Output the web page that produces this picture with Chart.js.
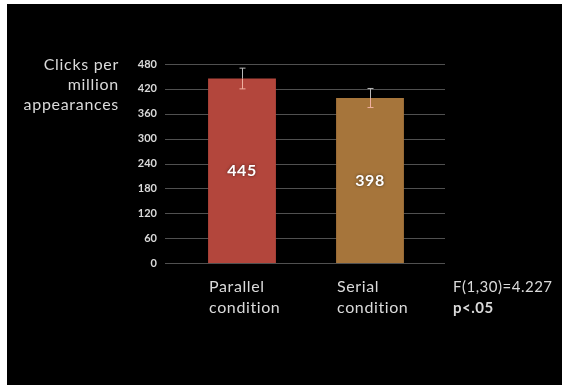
<!DOCTYPE html>
<html><head><meta charset="utf-8">
<script src="https://cdn.jsdelivr.net/npm/chart.js@4"></script>
<style>
html,body{margin:0;padding:0;background:#fff;width:562px;height:385px;overflow:hidden}
#wrap{position:absolute;left:7px;top:4px;width:555px;height:381px;background:#000}
canvas{display:block}
</style></head><body>
<div id="wrap"><canvas id="c" width="555" height="381"></canvas></div>
<script>
const categories = [["Parallel", "condition"], ["Serial", "condition"]];
const values = [445, 398];
const errors = [25, 23];
const yTicks = [0, 60, 120, 180, 240, 300, 360, 420, 480];
const yTitle = ["Clicks per", "million", "appearances"];
const statLines = ["F(1,30)=4.227", "p<.05"];
const barColors = ["#b3463c", "#a6753b"];

const FONT = "Lato, 'Open Sans', sans-serif";
const TXT = "#dadada";

const decor = {
  id: "decor",
  beforeDatasetsDraw(chart) {
    const {ctx, chartArea, scales: {y}} = chart;
    ctx.save();
    ctx.strokeStyle = "#505050";
    ctx.lineWidth = 1;
    yTicks.forEach(v => {
      const py = Math.round(y.getPixelForValue(v)) + 0.5;
      ctx.beginPath();
      ctx.moveTo(chartArea.left - 13, py);
      ctx.lineTo(chartArea.right + 11, py);
      ctx.stroke();
    });
    ctx.restore();
  },
  afterDatasetsDraw(chart) {
    const {ctx, scales: {y}} = chart;
    const meta = chart.getDatasetMeta(0);
    ctx.save();
    meta.data.forEach((el, i) => {
      const x = Math.round(el.x) + 0.5;
      const top = y.getPixelForValue(values[i] + errors[i]);
      const bot = y.getPixelForValue(values[i] - errors[i]);
      const mid = el.y;
      ctx.lineWidth = 1;
      ctx.strokeStyle = "#b8b8b8";
      ctx.beginPath();
      ctx.moveTo(x, top); ctx.lineTo(x, mid);
      ctx.moveTo(x - 3, top); ctx.lineTo(x + 3, top);
      ctx.stroke();
      ctx.strokeStyle = "#f0b0a0";
      ctx.beginPath();
      ctx.moveTo(x, mid); ctx.lineTo(x, bot);
      ctx.moveTo(x - 3, bot); ctx.lineTo(x + 3, bot);
      ctx.stroke();

      // value label
      ctx.letterSpacing = "0.5px";
      ctx.font = "bold 16px " + FONT;
      ctx.textAlign = "center";
      ctx.textBaseline = "middle";
      ctx.shadowColor = "rgba(0,0,0,0.6)";
      ctx.shadowBlur = 3;
      ctx.fillStyle = "#ffffff";
      ctx.fillText(String(values[i]), el.x, (el.y + el.base) / 2);
      ctx.shadowBlur = 0;

      // category label, left aligned with bar edge
      ctx.letterSpacing = "0.6px";
      ctx.font = "16px " + FONT;
      ctx.textAlign = "left";
      ctx.fillStyle = TXT;
      categories[i].forEach((line, k) => {
        ctx.fillText(line, el.x - el.width / 2 + 1, 283 + k * 21);
      });
    });

    // y title
    ctx.letterSpacing = "0.7px";
    ctx.font = "16px " + FONT;
    ctx.textAlign = "right";
    ctx.textBaseline = "middle";
    ctx.fillStyle = TXT;
    yTitle.forEach((line, k) => ctx.fillText(line, 112, 61 + k * 20));

    // stats
    ctx.letterSpacing = "0.5px";
    ctx.textAlign = "left";
    ctx.font = "15px " + FONT;
    ctx.fillText(statLines[0], 446, 283);
    ctx.font = "bold 15px " + FONT;
    ctx.fillText(statLines[1], 446, 304);
    ctx.restore();
  }
};

new Chart(document.getElementById("c"), {
  type: "bar",
  data: {
    labels: categories,
    datasets: [{
      data: values,
      backgroundColor: barColors,
      borderWidth: 0,
      barPercentage: 0.53,
      categoryPercentage: 1.0
    }]
  },
  options: {
    responsive: false,
    devicePixelRatio: 1,
    animation: false,
    layout: {padding: {left: 0, top: 60, right: 128, bottom: 122}},
    plugins: {legend: {display: false}, tooltip: {enabled: false}},
    scales: {
      x: {display: false},
      y: {
        min: 0, max: 480,
        afterFit(s) { s.width = 171; },
        afterBuildTicks(s) { s.ticks = yTicks.map(v => ({value: v})); },
        grid: {display: false, drawTicks: false},
        border: {display: false},
        ticks: {
          padding: 21,
          color: TXT,
          font: {family: FONT, size: 11, weight: "bold"}
        }
      }
    }
  },
  plugins: [decor]
});
</script>
</body></html>
